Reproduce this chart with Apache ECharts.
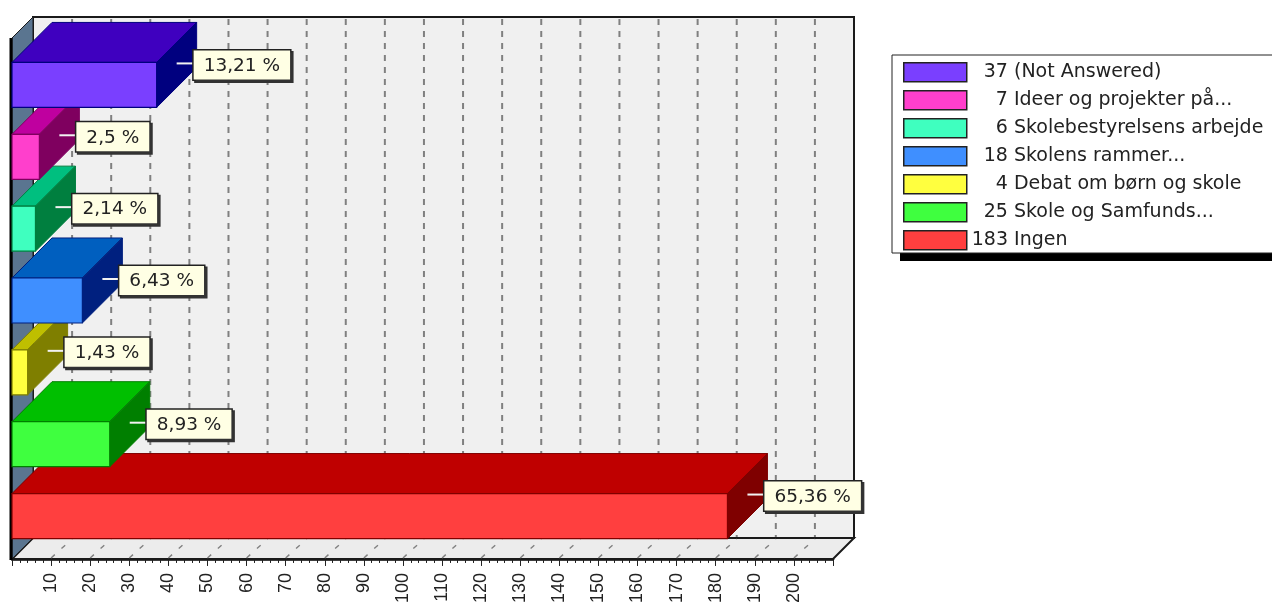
<!DOCTYPE html>
<html><head><meta charset="utf-8">
<style>html,body{margin:0;padding:0;background:#fff}#c{width:1272px;height:606px}</style>
<script src="https://cdn.jsdelivr.net/npm/echarts@6/dist/echarts.min.js"></script>
</head><body><div id="c"></div>
<script>
const categories = ['(Not Answered)','Ideer og projekter på...','Skolebestyrelsens arbejde','Skolens rammer...','Debat om børn og skole','Skole og Samfunds...','Ingen'];
const counts = [37,7,6,18,4,25,183];
const percentLabels = ['13,21 %','2,5 %','2,14 %','6,43 %','1,43 %','8,93 %','65,36 %'];
const tickLabels = [10,20,30,40,50,60,70,80,90,100,110,120,130,140,150,160,170,180,190,200];
const frontColors = ['#7A3FFF','#FF3FCC','#3FFFBF','#3F8FFF','#FFFF3F','#3FFF3F','#FF3F3F'];
const topColors = ['#3F00BF','#BF009F','#00BF7F','#005FBF','#BFBF00','#00BF00','#BF0000'];
const sideColors = ['#00007F','#7F005F','#007F3F','#00207F','#7F7F00','#007F00','#7F0000'];

const FONT = '"Liberation Sans", Arial, sans-serif';
const WIDE_FONT = '"DejaVu Sans", sans-serif';
const BAR_H = 45, BAR_DEPTH = 40, WALL_DEPTH = 21, AXIS_DROP = 7, WALL_RISE = 32, DIGIT_W = 12;
const legendNames = categories.map((c,i)=>counts[i]+' '+c);

function poly(points, fill, stroke, w){
  return {type:'polygon', shape:{points}, style:{fill, stroke, lineWidth:w===undefined?1:w}, silent:true};
}
function renderWalls(params, api){
  const cs = params.coordSys;
  const L = cs.x, R = cs.x+cs.width, B = cs.y+cs.height+AXIS_DROP, T = cs.y-WALL_RISE, D = WALL_DEPTH;
  const WB = B-D; const WT = T; const FT = WT+D;
  const ch = [];
  ch.push(poly([[L+D,WT],[R+D,WT],[R+D,WB],[L+D,WB]],'#F0F0F0','#1a1a1a',2));
  ch.push(poly([[L,B],[L+D,WB],[R+D,WB],[R,B]],'#ECECEC','#1a1a1a',2));
  ch.push(poly([[L,FT],[L+D,WT],[L+D,WB],[L,B]],'#5A7590','#1a1a1a',1));
  tickLabels.forEach(v=>{
    const x = api.coord([v,categories[0]])[0];
    ch.push({type:'line',shape:{x1:x+D,y1:WT+2,x2:x+D,y2:WB-1},style:{stroke:'#808080',lineWidth:2,lineDash:[6,6]},silent:true});
    ch.push({type:'line',shape:{x1:x,y1:B-1,x2:x+D,y2:WB+1},style:{stroke:'#808080',lineWidth:1.4,lineDash:[5,9]},silent:true});
  });
  ch.push({type:'line',shape:{x1:L-1,y1:FT,x2:L-1,y2:B+1},style:{stroke:'#000',lineWidth:3},silent:true});
  return {type:'group',children:ch};
}
function renderBar(i){
  return function(params, api){
    const p0 = api.coord([0, api.value(1)]), p1 = api.coord([api.value(0), api.value(1)]);
    const x0=p0[0], x1=p1[0], yt=p1[1]-BAR_H/2, yb=p1[1]+BAR_H/2, d=BAR_DEPTH, s=sideColors[i];
    return {type:'group',children:[
      poly([[x0,yt],[x0+d,yt-d],[x1+d,yt-d],[x1,yt]],topColors[i],s),
      poly([[x1,yt],[x1+d,yt-d],[x1+d,yb-d],[x1,yb]],sideColors[i],s),
      poly([[x0,yt],[x1,yt],[x1,yb],[x0,yb]],frontColors[i],s,1.2)
    ]};
  };
}
function renderLabel(params, api){
  const i = params.dataIndex;
  const p = api.coord([api.value(0), api.value(1)]);
  const yt = p[1]-BAR_H/2;
  return {type:'group',children:[
    {type:'line',shape:{x1:p[0]+20,y1:yt+1,x2:p[0]+37,y2:yt+1},style:{stroke:'#F2F2F2',lineWidth:2},silent:true},
    {type:'text',x:p[0]+37,y:yt-12,silent:true,style:{
      text:percentLabels[i],font:'18.5px '+WIDE_FONT,fill:'#222',align:'left',verticalAlign:'top',
      backgroundColor:'#FFFFE4',borderColor:'#222',borderWidth:1.5,padding:[6,10,4,10],
      shadowColor:'#333',shadowOffsetX:2,shadowOffsetY:2,shadowBlur:0}}
  ]};
}
const barSeries = categories.map((c,i)=>({
  type:'custom',name:legendNames[i],renderItem:renderBar(i),clip:false,
  itemStyle:{color:frontColors[i]},
  encode:{x:0,y:1},data:[[counts[i],c]]
})).reverse();

const chart = echarts.init(document.getElementById('c'),null,{renderer:'canvas'});
chart.setOption({
  animation:false,
  backgroundColor:'#fff',
  grid:{left:12,width:821,top:49,height:503},
  graphic:[
    {type:'rect',z:1,silent:true,shape:{x:900,y:63,width:400,height:198},style:{fill:'#000'}},
    {type:'rect',z:2,silent:true,shape:{x:892,y:55,width:400,height:198},style:{fill:'#fff',stroke:'#222',lineWidth:1}}
  ],
  xAxis:{type:'value',min:0,max:210,interval:10,offset:AXIS_DROP,
    axisLine:{show:true,lineStyle:{color:'#000',width:2.5}},
    axisTick:{show:true,length:7,lineStyle:{color:'#222',width:1}},
    minorTick:{show:true,splitNumber:5,length:4,lineStyle:{color:'#222',width:1}},
    splitLine:{show:false},
    axisLabel:{rotate:90,margin:14,color:'#222',fontSize:18,fontFamily:FONT,
      formatter:v=>tickLabels.includes(v)?String(v):''}},
  yAxis:{type:'category',inverse:true,data:categories,show:false},
  legend:{orient:'vertical',left:892,top:55,padding:[7,40,3,11],itemGap:7.5,itemWidth:63,itemHeight:19,z:10,
    icon:'rect',itemStyle:{borderColor:'#222',borderWidth:1.5},
    data:legendNames.map(n=>({name:n,icon:'rect'})),
    formatter:n=>{const k=n.indexOf(' ');const digits=k;
      return (digits===3?'':'{p'+digits+'|\u00a0}')+'{n|'+n.slice(0,k)+'}{t| '+n.slice(k+1)+'}';},
    textStyle:{fontFamily:WIDE_FONT,fontSize:19,color:'#222',rich:{
      p1:{width:2*DIGIT_W,height:19},p2:{width:DIGIT_W,height:19},
      n:{fontSize:19,fontFamily:WIDE_FONT,color:'#222',height:19},
      t:{fontSize:19,fontFamily:WIDE_FONT,color:'#222',height:19}}}},
  series:[
    {type:'custom',name:'walls',renderItem:renderWalls,clip:false,silent:true,data:[[0,categories[0]]],encode:{x:0,y:1}},
    ...barSeries,
    {type:'custom',name:'labels',renderItem:renderLabel,clip:false,silent:true,z:5,encode:{x:0,y:1},
      data:categories.map((c,i)=>[counts[i],c])}
  ]
});
</script></body></html>
